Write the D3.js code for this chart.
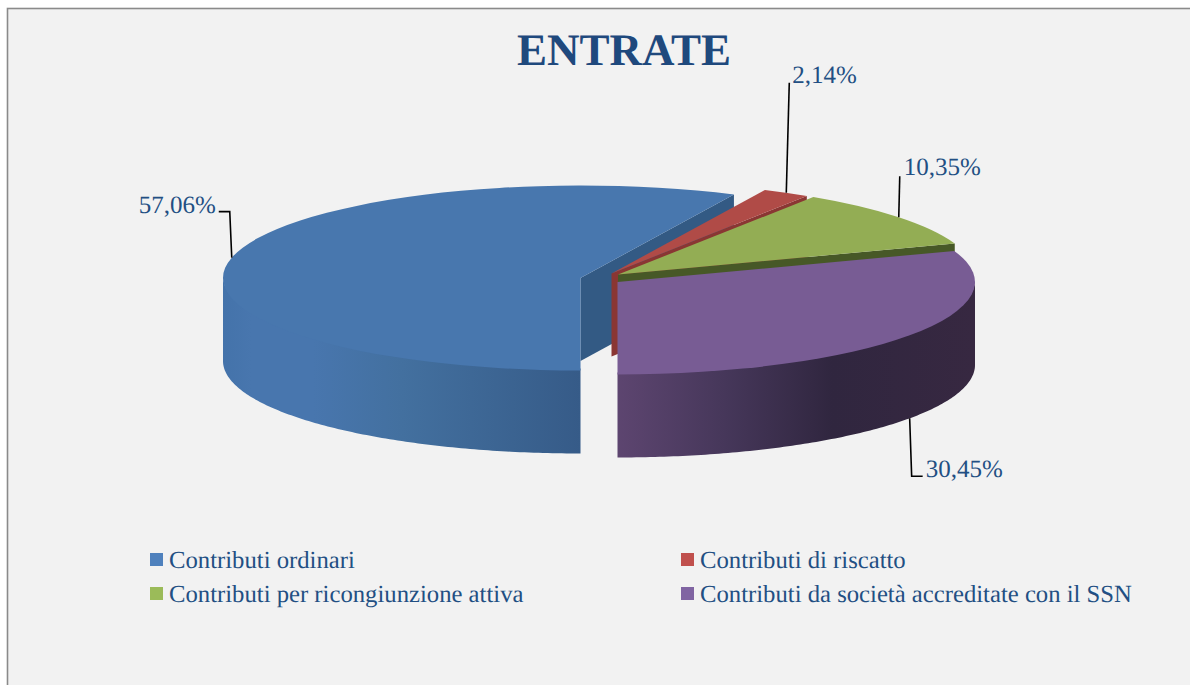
<!DOCTYPE html>
<html lang="it">
<head>
<meta charset="utf-8">
<title>ENTRATE</title>
<script src="https://cdn.jsdelivr.net/npm/d3@7/dist/d3.min.js"></script>
<style>
html,body{margin:0;padding:0;background:#fff;overflow:hidden}
svg{display:block}
text{font-family:"Liberation Serif","Times New Roman",serif;fill:#224f83;text-rendering:geometricPrecision}
</style>
</head>
<body>
<svg id="chart" width="1190" height="685"></svg>
<script>
const title = "ENTRATE";
const categories = ["Contributi ordinari","Contributi di riscatto","Contributi per ricongiunzione attiva","Contributi da società accreditate con il SSN"];
const values = [57.06, 2.14, 10.35, 30.45];
const legendColors = ["#4f81bd","#c0504d","#9bbb59","#8064a2"];
const topColors = ["#4877ae","#b04b47","#93ad54","#785c94"];
const cutColors = ["#335a84","#8a3633","#475827","#4a3a5c"];

// Layout (not data)
const W = 1190, H = 685;
const rx = 357.5, ry = 92.5, depth = 83;
const centers = [[580.5,278],[611.5,273.5],[618,274.5],[617.5,282]];
// leader bend points relative to the slice's anchor; label placed at the last one
const leaders = [
  {pts:[[-2,-46],[-13,-46]], dx:-3, dy:1, anchor:"end", wall:false},
  {pts:[[3,-110]], dx:3, dy:0, anchor:"start", wall:false},
  {pts:[[1,-41]], dx:4, dy:-1, anchor:"start", wall:false},
  {pts:[[2,58],[13,58]], dx:3, dy:1, anchor:"start", wall:true}
];

const svg = d3.select("#chart");
svg.append("rect").attr("x",7.5).attr("y",8.5).attr("width",W+20).attr("height",H+20)
  .attr("fill","#f2f2f2").attr("stroke","#8a8a8a").attr("stroke-width",1.6);

const arcs = d3.pie().sort(null).startAngle(Math.PI).endAngle(3*Math.PI)(values);
const arcGen = d3.arc().innerRadius(0).outerRadius(rx);
const project = (a,c,z=0) => [c[0]+rx*Math.sin(a), c[1]-ry*Math.cos(a)+z];
const line = d3.line();

// Horizontal gradients of the outer walls
const defs = svg.append("defs");
function grad(id,c,stops){
  const g = defs.append("linearGradient").attr("id",id).attr("gradientUnits","userSpaceOnUse")
    .attr("x1",c[0]).attr("x2",c[1]).attr("y1",0).attr("y2",0);
  stops.forEach(s=>g.append("stop").attr("offset",s[0]).attr("stop-color",s[1]));
}
grad("wall0",[223,581],[[0,"#4473aa"],[0.08,"#4876ae"],[0.25,"#4876ae"],[0.5,"#43709f"],[1,"#365b88"]]);
grad("wall3",[617,976],[[0,"#5d4570"],[0.3,"#46375a"],[0.6,"#30263f"],[1,"#372841"]]);

function wallPath(a0,a1,c){
  // the front half of the ellipse, for a slice that may run past one full turn
  const turn = a0 >= 2*Math.PI ? 2*Math.PI : 0;
  const s = Math.max(a0-turn,Math.PI/2), e = Math.min(a1-turn,3*Math.PI/2);
  if(e<=s) return null;
  const n = 120;
  const as = d3.range(n+1).map(i=>s+(e-s)*i/n);
  const t = as.map(a=>project(a,c,-2));   // tucked under the top face, so no seam shows
  const b = as.slice().reverse().map(a=>project(a,c,depth));
  return line(t.concat(b))+"Z";
}
function cutPath(a,c){
  const p = project(a,c);
  return line([c,p,[p[0],p[1]+depth],[c[0],c[1]+depth]])+"Z";
}

arcs.forEach((d,i)=>{
  const c = centers[i];
  const g = svg.append("g");
  const wp = wallPath(d.startAngle,d.endAngle,c);
  if(wp && (i===0||i===3)) g.append("path").attr("d",wp).attr("fill",`url(#wall${i})`);
  // cut wall facing the viewer on the slice's closing side
  g.append("path").attr("d",cutPath(d.endAngle,c)).attr("fill",cutColors[i]);
  g.append("path").attr("d",arcGen(d))
    .attr("transform",`translate(${c[0]},${c[1]}) scale(1,${ry/rx})`)
    .attr("fill",topColors[i]);
});

// Leaders and labels
const fmt = v => v.toFixed(2).replace(".",",")+"%";
arcs.forEach((d,i)=>{
  const c = centers[i], mid = (d.startAngle+d.endAngle)/2, L = leaders[i];
  const a = project(mid,c,L.wall?depth:0);
  const pts = [a].concat(L.pts.map(p=>[a[0]+p[0],a[1]+p[1]]));
  svg.append("path").attr("d",line(pts)).attr("fill","none").attr("stroke","#000").attr("stroke-width",1.6);
  const e = pts[pts.length-1];
  svg.append("text").attr("x",e[0]+L.dx).attr("y",e[1]+L.dy).attr("text-anchor",L.anchor)
    .attr("font-size",25).text(fmt(values[i]));
});

// Title
svg.append("text").attr("x",624).attr("y",65).attr("text-anchor","middle")
  .attr("font-size",45).attr("font-weight","bold").style("fill","#1f497d").text(title);

// Legend
const legendX = d3.scaleOrdinal().domain([0,1]).range([150,681]);
const legendY = d3.scaleOrdinal().domain([0,1]).range([553,587]);
categories.forEach((name,i)=>{
  const x = legendX(i%2), y = legendY(Math.floor(i/2));
  svg.append("rect").attr("x",x).attr("y",y).attr("width",13).attr("height",13).attr("fill",legendColors[i]);
  svg.append("text").attr("x",x+19).attr("y",y+15).attr("font-size",24.7).text(name);
});
</script>
</body>
</html>
